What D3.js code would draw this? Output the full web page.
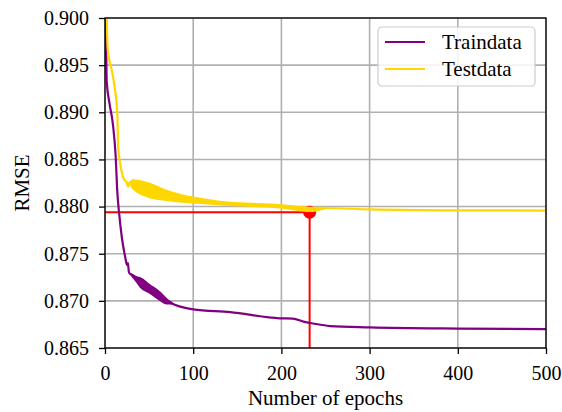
<!DOCTYPE html>
<html>
<head>
<meta charset="utf-8">
<script src="https://cdn.jsdelivr.net/npm/d3@7"></script>
<style>
  body { margin: 0; background: #fff; }
  svg text { font-family: "Liberation Serif", "DejaVu Serif", serif; fill: #000; }
</style>
</head>
<body>
<script>
// RMSE per epoch
const trainEpochs = [0, 1, 2, 5, 9, 12, 14, 16, 19, 23, 25, 26, 27, 28, 32, 36, 40, 51, 62, 74, 100, 142, 198, 213, 225, 236, 255, 300, 400, 500];
const trainRmse   = [0.9150, 0.9003, 0.8932, 0.8910, 0.8887, 0.8855, 0.8815, 0.8793, 0.8768, 0.8746, 0.8738, 0.8740, 0.8731, 0.8729, 0.8727, 0.8723, 0.8719, 0.8712, 0.8705, 0.8698, 0.8691, 0.8688, 0.86815, 0.86812, 0.8678, 0.8676, 0.86733, 0.86719, 0.86706, 0.86701];

// where the train curve oscillates
const trainBandEpochs = [30, 36, 40, 51, 62, 70, 76];
const trainBandLow    = [0.8727, 0.8720, 0.87147, 0.87083, 0.87009, 0.8697, 0.8697];
const trainBandHigh   = [0.8728, 0.87253, 0.87242, 0.87168, 0.87094, 0.8702, 0.8698];

const testEpochs = [0, 1, 2, 3, 8, 11, 14, 15, 17, 21, 25, 26, 28, 31, 49, 68, 87, 105, 136, 201, 232, 250, 300, 400, 500];
const testRmse   = [0.9160, 0.9050, 0.9000, 0.8968, 0.8943, 0.8926, 0.8897, 0.8862, 0.8847, 0.8830, 0.8825, 0.8821, 0.8826, 0.8824, 0.8818, 0.8812, 0.8809, 0.8806, 0.8803, 0.8800, 0.8797, 0.87985, 0.8797, 0.8796, 0.87958];

const testBandEpochs = [29, 31, 49, 68, 87, 105, 136, 201, 232, 250];
const testBandLow    = [0.8824, 0.88197, 0.88102, 0.88070, 0.88048, 0.88038, 0.88017, 0.87985, 0.8795, 0.8798];
const testBandHigh   = [0.8826, 0.88282, 0.88250, 0.88176, 0.88123, 0.88091, 0.88048, 0.88017, 0.8799, 0.8799];

const bestEpoch = 232;
const bestRmse = 0.8794;

const xTicks = [0, 100, 200, 300, 400, 500];
const yTicks = [0.865, 0.870, 0.875, 0.880, 0.885, 0.890, 0.895, 0.900];
const seriesNames = ["Traindata", "Testdata"];
const seriesColors = ["#800080", "#ffd700"];

const W = 562, H = 412;
const margin = { top: 18, right: 16, bottom: 64, left: 105 };
const width = W - margin.left - margin.right;
const height = H - margin.top - margin.bottom;
const serif = "Liberation Serif, DejaVu Serif, serif";

const svg = d3.select("body")
    .append("svg")
    .attr("width", W)
    .attr("height", H)
    .append("g")
    .attr("transform", `translate(${margin.left}, ${margin.top})`);

const x = d3.scaleLinear().domain([0, 500]).range([0, width]);
const y = d3.scaleLinear().domain([0.865, 0.900]).range([height, 0]);

svg.append("clipPath").attr("id", "plot")
    .append("rect").attr("width", width).attr("height", height);

// grid
svg.append("g").selectAll("line").data(xTicks).enter().append("line")
    .attr("x1", d => x(d)).attr("x2", d => x(d))
    .attr("y1", 0).attr("y2", height)
    .attr("stroke", "#b0b0b0").attr("stroke-width", 1.6);
svg.append("g").selectAll("line").data(yTicks).enter().append("line")
    .attr("y1", d => y(d)).attr("y2", d => y(d))
    .attr("x1", 0).attr("x2", width)
    .attr("stroke", "#b0b0b0").attr("stroke-width", 1.6);

// best epoch marker
svg.append("line")
    .attr("x1", x(0)).attr("x2", x(bestEpoch))
    .attr("y1", y(bestRmse)).attr("y2", y(bestRmse))
    .attr("stroke", "red").attr("stroke-width", 2);
svg.append("line")
    .attr("x1", x(bestEpoch)).attr("x2", x(bestEpoch))
    .attr("y1", y(bestRmse)).attr("y2", height)
    .attr("stroke", "red").attr("stroke-width", 2);
svg.append("circle")
    .attr("cx", x(bestEpoch)).attr("cy", y(bestRmse))
    .attr("r", 6.5).attr("fill", "red");

const line = d3.line().curve(d3.curveMonotoneX).x(d => x(d[0])).y(d => y(d[1]));
const area = d3.area().curve(d3.curveMonotoneX).x(d => x(d[0])).y0(d => y(d[1])).y1(d => y(d[2]));

const plot = svg.append("g").attr("clip-path", "url(#plot)");

function drawSeries(ep, vals, bEp, bLo, bHi, color) {
    plot.append("path")
        .datum(bEp.map((e, i) => [e, bLo[i], bHi[i]]))
        .attr("d", area)
        .attr("fill", color)
        .attr("stroke", color)
        .attr("stroke-width", 1.5);
    plot.append("path")
        .datum(ep.map((e, i) => [e, vals[i]]))
        .attr("d", line)
        .attr("fill", "none")
        .attr("stroke", color)
        .attr("stroke-width", 2.2)
        .attr("stroke-linejoin", "round");
}
drawSeries(trainEpochs, trainRmse, trainBandEpochs, trainBandLow, trainBandHigh, seriesColors[0]);
drawSeries(testEpochs, testRmse, testBandEpochs, testBandLow, testBandHigh, seriesColors[1]);

// axes
const xAxis = d3.axisBottom(x).tickValues(xTicks).tickSize(6).tickPadding(12);
const yAxis = d3.axisLeft(y).tickValues(yTicks).tickFormat(d3.format(".3f")).tickSize(6).tickPadding(10);

svg.append("g")
    .attr("transform", `translate(0, ${height})`)
    .call(xAxis)
    .attr("font-family", serif).attr("font-size", 20)
    .call(g => g.select(".domain").remove());
svg.append("g")
    .call(yAxis)
    .attr("font-family", serif).attr("font-size", 20)
    .call(g => g.select(".domain").remove());
svg.selectAll(".tick line").attr("stroke", "#000").attr("stroke-width", 1.3);

svg.append("rect")
    .attr("width", width).attr("height", height)
    .attr("fill", "none").attr("stroke", "#000").attr("stroke-width", 1.3);

svg.append("text")
    .attr("transform", `translate(${width / 2}, ${height + 57})`)
    .style("text-anchor", "middle")
    .style("font-size", "21px")
    .text("Number of epochs");

svg.append("text")
    .attr("transform", `translate(${22 - margin.left}, ${height / 2}) rotate(-90)`)
    .attr("dy", "0.35em")
    .style("text-anchor", "middle")
    .style("font-size", "21px")
    .text("RMSE");

// legend
const legend = svg.append("g").attr("transform", `translate(${378 - margin.left}, ${27 - margin.top})`);
legend.append("rect")
    .attr("width", 157).attr("height", 59).attr("rx", 4)
    .attr("fill", "#fff").attr("fill-opacity", 0.85)
    .attr("stroke", "#cccccc").attr("stroke-width", 1.2);
seriesNames.forEach((name, i) => {
    const row = legend.append("g").attr("transform", `translate(0, ${15 + i * 27})`);
    row.append("line")
        .attr("x1", 7).attr("x2", 47)
        .attr("stroke", seriesColors[i]).attr("stroke-width", 2.2);
    row.append("text")
        .attr("x", 64).attr("dy", "0.35em")
        .style("font-size", "21px")
        .text(name);
});
</script>
</body>
</html>
